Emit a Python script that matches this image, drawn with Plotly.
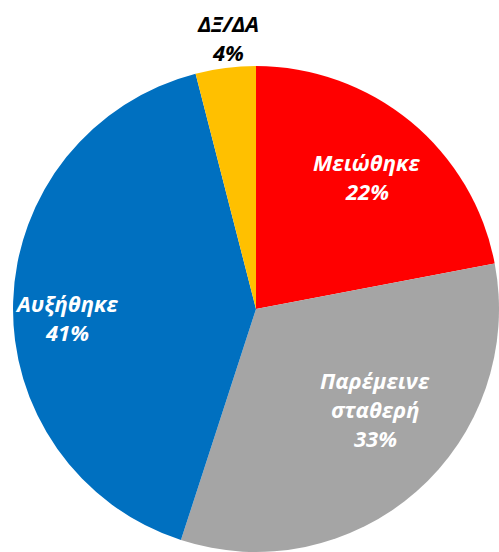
import math
import plotly.graph_objects as go

labels = ["Μειώθηκε", "Παρέμεινε σταθερή", "Αυξήθηκε", "ΔΞ/ΔΑ"]
label_lines = [["Μειώθηκε"], ["Παρέμεινε", "σταθερή"], ["Αυξήθηκε"], ["ΔΞ/ΔΑ"]]
values = [22, 33, 41, 4]
colors = ["#FF0000", "#A5A5A5", "#0070C0", "#FFC000"]
text_colors = ["white", "white", "white", "black"]
label_radius = [0.71, 0.64, 0.78, 1.125]   # label distance from centre, in pie radii
label_turn = [0.4, -8.6, -4.5, 1.3]        # label angle tweak vs slice mid-angle, degrees

W, H = 499, 552
dom_x = [0.0261, 1.0]
dom_y = [0.0, 0.8804]

fig = go.Figure(go.Pie(
    labels=labels,
    values=values,
    sort=False,
    direction="clockwise",
    rotation=0,
    marker=dict(colors=colors, line=dict(width=0)),
    textinfo="none",
    automargin=False,
    showlegend=False,
    hoverinfo="label+percent",
    domain=dict(x=dom_x, y=dom_y),
))

# label placement derived from the data (slice mid-angles)
cx = (dom_x[0] + dom_x[1]) / 2
cy = (dom_y[0] + dom_y[1]) / 2
r_px = min((dom_x[1] - dom_x[0]) * W, (dom_y[1] - dom_y[0]) * H) / 2
total = sum(values)
cum = 0
line_gap = 29
for lines, v, col, f, turn in zip(label_lines, values, text_colors, label_radius, label_turn):
    mid = (cum + v / 2) / total * 2 * math.pi + math.radians(turn)
    cum += v
    x = cx + f * r_px * math.sin(mid) / W
    y = cy + f * r_px * math.cos(mid) / H
    pct = f"{round(v / total * 100)}%"
    all_lines = lines + [pct]
    n = len(all_lines)
    for i, t in enumerate(all_lines):
        fig.add_annotation(
            x=x, y=y, xref="paper", yref="paper",
            text=t, showarrow=False,
            xanchor="center", yanchor="middle",
            yshift=((n - 1) / 2 - i) * line_gap,
            font=dict(family="Open Sans", size=22, color=col, style="italic", weight="bold"),
        )

fig.update_layout(
    width=W, height=H,
    margin=dict(l=0, r=0, t=0, b=0),
    paper_bgcolor="white",
    plot_bgcolor="white",
)

fig.write_html("out.html", config={"displayModeBar": False},
               post_script="document.body.style.margin='0';")
